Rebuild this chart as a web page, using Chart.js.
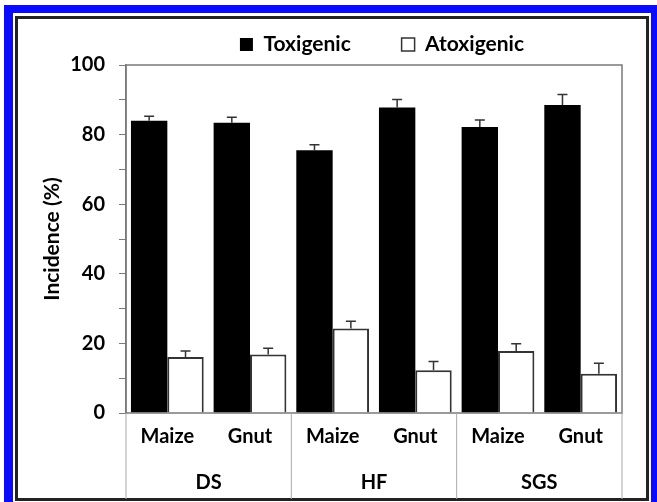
<!DOCTYPE html>
<html>
<head>
<meta charset="utf-8">
<script src="https://cdn.jsdelivr.net/npm/chart.js@4"></script>
<style>
    html, body { margin: 0; padding: 0; background: #fff; }
    #wrap { position: relative; width: 657px; height: 502px; overflow: hidden; }
    #blueFrame {
        position: absolute; left: 4px; top: 5px; width: 660px; height: 520px;
        border-left: 9px solid #0a0aff; border-top: 8px solid #0a0aff;
        box-sizing: border-box;
    }
    #blackFrame {
        position: absolute; left: 15px; top: 16px; width: 634px; height: 485px;
        border: 3px solid #222; box-sizing: border-box;
    }
    #blueRight { position: absolute; left: 651px; top: 5px; width: 6px; height: 497px; background: #0a0aff; }
    canvas { position: absolute; left: 0; top: 0; }
</style>
</head>
<body>
<div id="wrap">
    <div id="blueFrame"></div>
    <div id="blueRight"></div>
    <div id="blackFrame"></div>
    <canvas id="incidenceChart" width="657" height="502"></canvas>
</div>
<script>
// datos
const cultivos = ['Maize', 'Gnut', 'Maize', 'Gnut', 'Maize', 'Gnut'];
const zonas = ['DS', 'HF', 'SGS'];
const toxigenic = [84.0, 83.4, 75.5, 87.8, 82.2, 88.5];
const toxigenicErr = [1.3, 1.6, 1.6, 2.3, 2.0, 3.0];
const atoxigenic = [16.1, 16.8, 24.3, 12.3, 17.8, 11.3];
const atoxigenicErr = [1.7, 1.8, 2.1, 2.5, 2.1, 3.0];
const yTickLabels = [0, 20, 40, 60, 80, 100];

const fuente = { family: 'Lato', weight: 'bold', size: 20 };
const gris = '#7a7a7a';

// barras de error (solo hacia arriba)
const errorBars = {
    id: 'errorBars',
    afterDatasetsDraw(chart) {
        const { ctx } = chart;
        const y = chart.scales.y;
        chart.data.datasets.forEach((ds, i) => {
            const meta = chart.getDatasetMeta(i);
            ctx.save();
            ctx.strokeStyle = '#333';
            ctx.lineWidth = 1.5;
            meta.data.forEach((bar, j) => {
                const top = y.getPixelForValue(ds.data[j] + ds.errores[j]);
                ctx.beginPath();
                ctx.moveTo(bar.x, bar.y);
                ctx.lineTo(bar.x, top);
                ctx.moveTo(bar.x - 5, top);
                ctx.lineTo(bar.x + 5, top);
                ctx.stroke();
            });
            ctx.restore();
        });
    }
};

// marco del area y separadores de grupos
const marco = {
    id: 'marco',
    afterLayout(chart) {
        // la leyenda del original esta un poco a la derecha
        chart.legend.left += 8;
        chart.legend.right += 8;
    },
    afterDraw(chart) {
        const { ctx, chartArea } = chart;
        const x = chart.scales.x;
        ctx.save();
        ctx.strokeStyle = gris;
        ctx.lineWidth = 1.5;
        ctx.strokeRect(chartArea.left, chartArea.top, chartArea.right - chartArea.left, chartArea.bottom - chartArea.top);
        ctx.strokeStyle = '#aaa';
        ctx.lineWidth = 1;
        const porGrupo = cultivos.length / zonas.length;
        for (let g = 0; g <= zonas.length; g++) {
            let px;
            const k = g * porGrupo;
            if (k === 0) px = x.left;
            else if (k === cultivos.length) px = x.right;
            else px = (x.getPixelForValue(k - 1) + x.getPixelForValue(k)) / 2;
            ctx.beginPath();
            ctx.moveTo(px, chartArea.bottom);
            ctx.lineTo(px, chart.height - 3);
            ctx.stroke();
        }
        ctx.restore();
    }
};

const ctx = document.getElementById('incidenceChart').getContext('2d');
new Chart(ctx, {
    type: 'bar',
    data: {
        labels: cultivos,
        datasets: [
            {
                label: 'Toxigenic',
                data: toxigenic,
                errores: toxigenicErr,
                backgroundColor: '#000',
                borderColor: '#000',
                borderWidth: 0,
                categoryPercentage: 0.88,
                barPercentage: 1.0
            },
            {
                label: 'Atoxigenic',
                data: atoxigenic,
                errores: atoxigenicErr,
                backgroundColor: '#fff',
                borderColor: '#333',
                borderWidth: 2,
                categoryPercentage: 0.88,
                barPercentage: 1.0
            }
        ]
    },
    options: {
        responsive: false,
        animation: false,
        layout: { padding: { top: 24, bottom: 2, left: 40, right: 35 } },
        plugins: {
            legend: {
                position: 'top',
                fullSize: false,
                labels: {
                    color: '#000',
                    font: { family: 'Lato', weight: 'bold', size: 21 },
                    boxWidth: 13,
                    boxHeight: 13,
                    padding: 10,
                    // espacios al final para separar los dos items como en la figura
                    generateLabels: chart => chart.data.datasets.map((ds, i) => ({
                        text: i === 0 ? ds.label + '\u00a0\u00a0\u00a0\u00a0\u00a0\u00a0\u00a0\u00a0' : ds.label,
                        fillStyle: ds.backgroundColor,
                        strokeStyle: '#333',
                        lineWidth: i === 0 ? 0 : 1.5,
                        datasetIndex: i
                    }))
                }
            },
            tooltip: { enabled: false }
        },
        scales: {
            x: {
                position: 'bottom',
                grid: { display: false },
                border: { display: false },
                ticks: { color: '#000', font: fuente, padding: 4, maxRotation: 0 },
                afterFit: s => { s.height = 44; }
            },
            x2: {
                type: 'category',
                labels: zonas,
                position: 'bottom',
                offset: true,
                grid: { display: false },
                border: { display: false },
                ticks: { color: '#000', font: fuente, padding: 6, maxRotation: 0 },
                afterFit: s => { s.height = 43; }
            },
            y: {
                min: 0,
                max: 100,
                grid: { drawOnChartArea: false, color: gris, tickLength: 7 },
                border: { color: gris, width: 1.5 },
                ticks: {
                    stepSize: 10,
                    color: '#000',
                    font: fuente,
                    padding: 14,
                    callback: v => yTickLabels.includes(v) ? v : ''
                },
                title: {
                    display: true,
                    text: 'Incidence (%)',
                    color: '#000',
                    font: { family: 'Lato', weight: 'bold', size: 21 },
                    padding: { top: 0, bottom: 4 }
                },
                afterFit: s => { s.width = 86; }
            }
        }
    },
    plugins: [errorBars, marco]
});
</script>
</body>
</html>
